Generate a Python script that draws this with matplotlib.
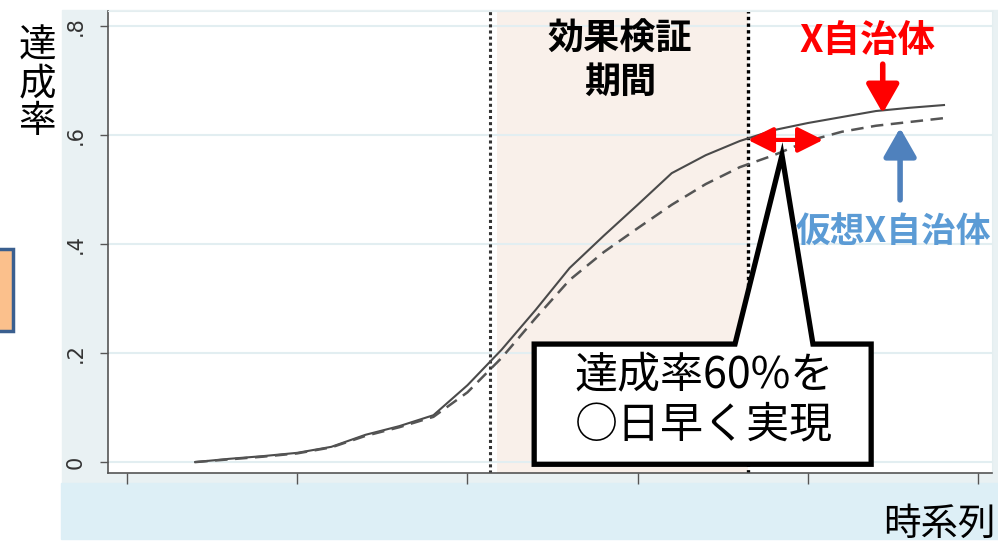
import matplotlib.pyplot as plt
from matplotlib.patches import Rectangle, Polygon

plt.rcParams['font.family'] = ['Noto Sans CJK JP', 'DejaVu Sans']

## Data (time step, achievement rate)
t = list(range(2, 25))
rate_x = [0.000, 0.006, 0.011, 0.017, 0.028, 0.050, 0.066, 0.086, 0.141, 0.206,
          0.279, 0.356, 0.415, 0.472, 0.530, 0.563, 0.589, 0.609, 0.622, 0.633,
          0.644, 0.650, 0.655]
rate_virtual = [0.000, 0.005, 0.010, 0.016, 0.027, 0.048, 0.064, 0.083, 0.128, 0.191,
                0.264, 0.334, 0.385, 0.429, 0.472, 0.510, 0.541, 0.563, 0.589, 0.606,
                0.617, 0.624, 0.631]
yticks = [0, 0.2, 0.4, 0.6, 0.8]
ytick_labels = ['0', '.2', '.4', '.6', '.8']
xticks = [0, 5, 10, 15, 20, 25]
period_line = 10.66
period_start = 10.87
period_end = 18.24

W, H = 998, 544
def fx(px):
    return px / W
def fy(py):
    return 1 - py / H

fig = plt.figure(figsize=(W / 100, H / 100), dpi=100)

## Background bands
fig.patches.append(Rectangle((fx(62), fy(483)), fx(998) - fx(62), fy(10) - fy(483),
                             transform=fig.transFigure, color='#e9f1f3', zorder=-2))
fig.patches.append(Rectangle((fx(61), fy(539)), fx(998) - fx(61), fy(483) - fy(539),
                             transform=fig.transFigure, color='#ddeff6', zorder=-1))
# small orange box at left edge
fig.patches.append(Rectangle((fx(-5), fy(331)), fx(18), fy(249) - fy(331),
                             transform=fig.transFigure, facecolor='#fbc08c',
                             edgecolor='#3a5f8f', lw=2.5, zorder=1))

ax = fig.add_axes([fx(108), fy(473), fx(992) - fx(108), fy(11) - fy(473)])
ax.set_xlim(-0.56, 25.41)
ax.set_ylim(-0.02, 0.8275)

ax.axvspan(period_start, period_end, color='#f9f0ea', zorder=0, lw=0)
ax.axvline(period_line, color='#333333', ls=(0, (1, 1)), lw=2.2, zorder=1)
ax.axvline(period_end, color='black', ls=(0, (1, 1)), lw=2.4, zorder=1)

ax.plot(t, rate_x, color='#4a4a4a', lw=1.5, zorder=3)
ax.plot(t, rate_virtual, color='#555555', lw=1.8, ls=(0, (5, 3)), zorder=3)

## Axes styling
ax.set_yticks(yticks)
ax.set_yticklabels(ytick_labels, rotation=90, va='center', fontsize=15,
                   color='#333333', family='DejaVu Sans')
ax.set_xticks(xticks)
ax.set_xticklabels([])
ax.tick_params(axis='y', length=6, width=1, color='#555555', pad=10)
ax.tick_params(axis='x', length=8, width=1, color='#555555')
ax.yaxis.grid(True, color='#e2eef1', lw=1.5)
ax.set_axisbelow(True)
for s in ['left', 'bottom']:
    ax.spines[s].set_color('#555555')
    ax.spines[s].set_linewidth(1.2)
for s in ['top', 'right']:
    ax.spines[s].set_color('#e4eef0')

## Annotations
ax.text(14.48, 0.736, '効果検証\n期間', ha='center', va='center', fontsize=26,
        fontweight='bold', linespacing=1.2, zorder=5)
ax.text(21.75, 0.774, 'X自治体', ha='center', va='center', fontsize=27,
        fontweight='bold', color='#ff0000', zorder=5)
ax.text(22.5, 0.422, '仮想X自治体', ha='center', va='center', fontsize=25,
        fontweight='bold', color='#5b9bd5', zorder=5)

ax.annotate('', xy=(22.2, 0.640), xytext=(22.2, 0.730),
            arrowprops=dict(arrowstyle='-|>,head_width=0.4,head_length=0.7',
                            color='#ff0000', lw=4, mutation_scale=25, shrinkA=0, shrinkB=0),
            zorder=5)
ax.annotate('', xy=(22.71, 0.613), xytext=(22.71, 0.481),
            arrowprops=dict(arrowstyle='-|>,head_width=0.4,head_length=0.7',
                            color='#4f81bd', lw=4, mutation_scale=25, shrinkA=0, shrinkB=0),
            zorder=5)
ax.annotate('', xy=(18.24, 0.591), xytext=(20.45, 0.591),
            arrowprops=dict(arrowstyle='<|-|>,head_width=0.35,head_length=0.7',
                            color='#ff0000', lw=3, mutation_scale=22, shrinkA=0, shrinkB=0),
            zorder=5)

## Speech bubble callout
bubble = [(11.96, -0.004), (11.96, 0.2165), (17.86, 0.2165), (19.24, 0.563),
          (20.15, 0.2165), (21.86, 0.2165), (21.86, -0.004)]
ax.add_patch(Polygon(bubble, closed=True, facecolor='white', edgecolor='black',
                     lw=3.8, joinstyle='miter', zorder=6))
ax.text(16.95, 0.113, '達成率60%を\n○日早く実現', ha='center', va='center',
        fontsize=31, linespacing=1.2, zorder=7)

## Axis titles
fig.text(fx(37), fy(84), '達\n成\n率', ha='center', va='center', fontsize=27,
         linespacing=0.95)
fig.text(fx(996), fy(524), '時系列', ha='right', va='center', fontsize=27, zorder=3)

fig.savefig('out.png', dpi=100)
